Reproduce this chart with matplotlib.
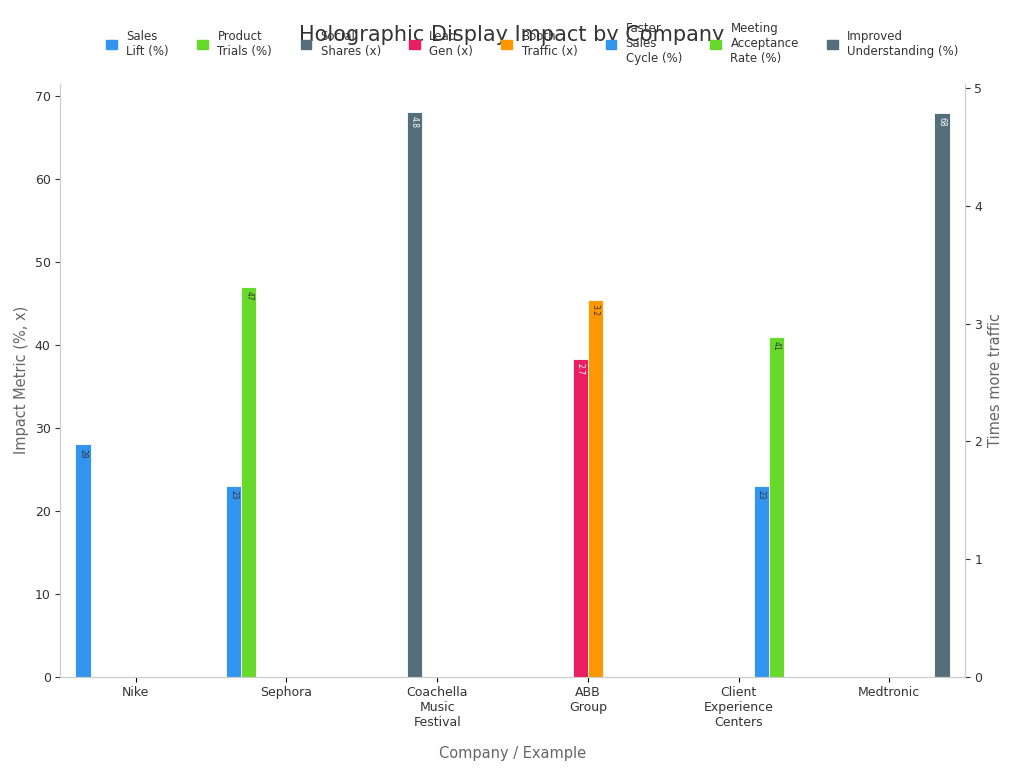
import matplotlib
matplotlib.use("Agg")
import matplotlib.pyplot as plt
import numpy as np
from matplotlib.patches import Patch

categories = ["Nike", "Sephora", "Coachella\nMusic\nFestival", "ABB\nGroup", "Client\nExperience\nCenters", "Medtronic"]
series = ["Sales\nLift (%)", "Product\nTrials (%)", "Social\nShares (x)", "Lead\nGen (x)", "Booth\nTraffic (x)",
          "Faster\nSales\nCycle (%)", "Meeting\nAcceptance\nRate (%)", "Improved\nUnderstanding (%)"]
colors = ["#3394F0", "#66D92A", "#546E7A", "#E91E63", "#FF9800", "#3394F0", "#66D92A", "#546E7A"]
on_right = [False, False, True, True, True, False, False, False]
values = [
    [28, 23, None, None, None, None],
    [None, 47, None, None, None, None],
    [None, None, 4.8, None, None, None],
    [None, None, None, 2.7, None, None],
    [None, None, None, 3.2, None, None],
    [None, None, None, None, 23, None],
    [None, None, None, None, 41, None],
    [None, None, None, None, None, 68],
]

fig = plt.figure(figsize=(10.24, 7.68), dpi=100)
ax = fig.add_axes([0.059, 0.119, 0.883, 0.772])
ax2 = ax.twinx()
x = np.arange(len(categories))
w = 0.1
n = len(series)
for i in range(n):
    a = ax2 if on_right[i] else ax
    lc = "white" if colors[i] in ("#546E7A", "#E91E63") else "#333333"
    for j, v in enumerate(values[i]):
        if v is None:
            continue
        xpos = x[j] + (i - (n - 1) / 2) * w
        a.bar(xpos, v, w, color=colors[i], edgecolor="white", linewidth=0.6)
        a.annotate(f"{v:g}", (xpos, v), xytext=(0, -3), textcoords="offset points",
                   ha="center", va="top", rotation=-90, fontsize=5.5, color=lc)

ax.set_xlim(-0.5, len(categories) - 0.5)
ax.set_ylim(0, 71.5)
ax2.set_ylim(0, 5.04)
ax.set_xticks(x)
ax.set_xticklabels(categories, fontsize=9, color="#333333")
ax.tick_params(axis="y", labelsize=9, colors="#333333")
ax2.tick_params(axis="y", labelsize=9, colors="#333333")
ax.set_ylabel("Impact Metric (%, x)", fontsize=10.5, color="#666666")
ax2.set_ylabel("Times more traffic", fontsize=10.5, color="#666666")
ax.set_xlabel("Company / Example", fontsize=10.5, color="#666666", labelpad=12)
for a in (ax, ax2):
    a.spines["top"].set_visible(False)
    for s in ("left", "right", "bottom"):
        a.spines[s].set_color("#cccccc")
fig.suptitle("Holographic Display Impact by Company", fontsize=15, color="#333333", y=0.967)
handles = [Patch(color=c) for c in colors]
leg = fig.legend(handles, series, loc="upper center", ncol=8, bbox_to_anchor=(0.52, 0.985),
                 frameon=False, fontsize=8.5, handlelength=0.9, handleheight=0.9, columnspacing=2.4)
for t in leg.get_texts():
    t.set_color("#333333")
fig.savefig("out.png", dpi=100)
